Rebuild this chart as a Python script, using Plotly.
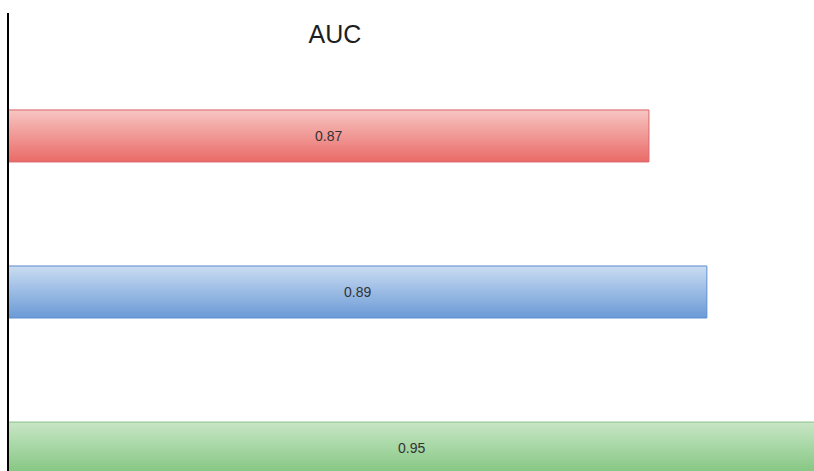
import plotly.graph_objects as go

# AUC per model, listed top to bottom
auc_values = [0.87, 0.89, 0.95]
bar_labels = ["0.87", "0.89", "0.95"]
row_positions = [2, 1, 0]

# Vertical gradient endpoints and outline colour for each bar
top_colors = ["#f7c5c3", "#cadcf2", "#c8e6c6"]
bottom_colors = ["#ea6a66", "#6a9ad6", "#83c680"]
edge_colors = ["#d8676b", "#5f8fd0", "#8cc48a"]

X_RANGE = [0.649, 0.927]
BAR_WIDTH = 0.333
N_SLICES = 26
FONT = "Liberation Sans, Arial, sans-serif"


def hex_to_rgb(h):
    h = h.lstrip("#")
    return tuple(int(h[i:i + 2], 16) for i in (0, 2, 4))


def mix(c_low, c_high, t):
    a, b = hex_to_rgb(c_low), hex_to_rgb(c_high)
    return "rgb({},{},{})".format(*[round(a[i] + (b[i] - a[i]) * t) for i in range(3)])


fig = go.Figure()

# Stack thin bar slices so each bar shades from light (top) to darker (bottom)
slice_w = BAR_WIDTH / N_SLICES
for k in range(N_SLICES):
    t = (k + 0.5) / N_SLICES
    fig.add_trace(go.Bar(
        x=auc_values,
        y=row_positions,
        orientation="h",
        width=slice_w * 1.15,
        offset=-BAR_WIDTH / 2 + k * slice_w,
        marker=dict(color=[mix(bottom_colors[i], top_colors[i], t) for i in range(3)],
                    line=dict(width=0)),
        hoverinfo="skip",
        showlegend=False,
    ))

# Outline on top of the gradient
fig.add_trace(go.Bar(
    x=auc_values,
    y=row_positions,
    orientation="h",
    width=BAR_WIDTH,
    marker=dict(color="rgba(0,0,0,0)", line=dict(color=edge_colors, width=1)),
    hoverinfo="skip",
    showlegend=False,
))

# Value labels centred on the visible part of each bar
for v, lab, pos in zip(auc_values, bar_labels, row_positions):
    fig.add_annotation(
        x=(X_RANGE[0] + min(v, X_RANGE[1])) / 2,
        y=pos,
        text=lab,
        showarrow=False,
        xanchor="center",
        yanchor="middle",
        font=dict(family=FONT, size=14, color="#333333"),
    )

fig.update_layout(
    width=814,
    height=471,
    margin=dict(l=9, r=0, t=13, b=0),
    paper_bgcolor="white",
    plot_bgcolor="white",
    barmode="overlay",
    title=dict(
        text="AUC",
        x=335 / 814,
        xref="container",
        xanchor="center",
        y=1 - 34 / 471,
        yref="container",
        yanchor="middle",
        font=dict(family=FONT, size=25, color="#1e1e1e"),
    ),
    xaxis=dict(range=X_RANGE, visible=False, showgrid=False, zeroline=False),
    yaxis=dict(
        range=[-0.147, 2.788],
        showline=True,
        linecolor="black",
        linewidth=1.5,
        showticklabels=False,
        showgrid=False,
        zeroline=False,
        ticks="",
    ),
)

fig.write_html("out.html")
